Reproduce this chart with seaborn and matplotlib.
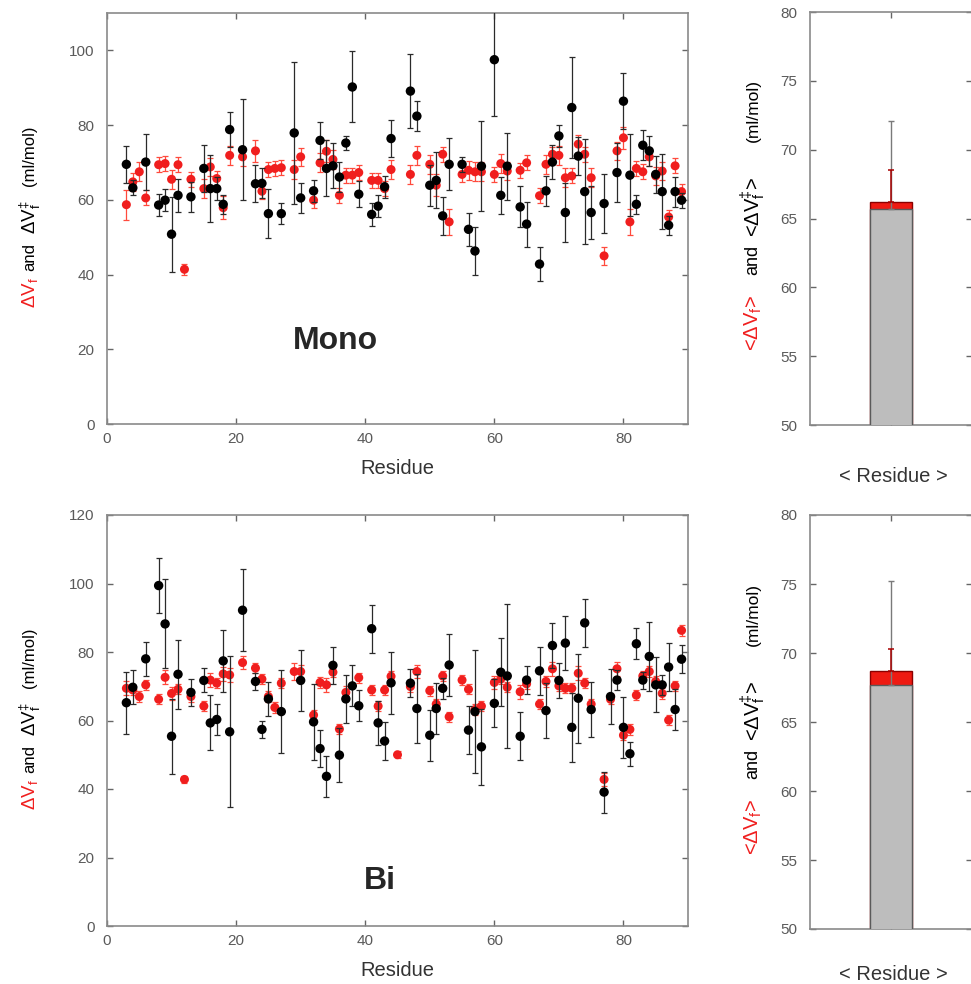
import numpy as np
import pandas as pd
import seaborn as sns
import matplotlib.pyplot as plt

nan = np.nan

residue = [3, 4, 5, 6, 8, 9, 10, 11, 12, 13, 15, 16, 17, 18, 19, 21, 23, 24, 25, 26,
           27, 29, 30, 32, 33, 34, 35, 36, 37, 38, 39, 41, 42, 43, 44, 45, 47, 48, 50, 51,
           52, 53, 55, 56, 57, 58, 60, 61, 62, 64, 65, 67, 68, 69, 70, 71, 72, 73, 74, 75,
           77, 78, 79, 80, 81, 82, 83, 84, 85, 86, 87, 88, 89]

mono_black = [69.5, 63.2, nan, 70.1, 58.6, 59.9, 50.8, 61.2, nan, 60.8, 68.4, 63.0, 63.0, 58.8, 78.8, 73.4, 64.3, 64.4, 56.3, nan,
              56.3, 77.9, 60.5, 62.4, 75.9, 68.4, 69.1, 66.1, 75.2, 90.2, 61.5, 56.1, 58.3, 63.5, 76.4, nan, 89.1, 82.4, 63.9, 65.2,
              55.7, 69.5, 69.5, 52.1, 46.3, 69.0, 97.5, 61.2, 69.0, 58.1, 53.5, 42.8, 62.4, 70.1, 77.1, 56.6, 84.7, 71.7, 62.2, 56.6,
              59.0, nan, 67.3, 86.4, 66.6, 58.8, 74.6, 73.1, 66.8, 62.2, 53.2, 62.2, 59.9]
mono_black_err = [5, 2, nan, 7.5, 3, 3, 10, 4.5, nan, 4, 6.4, 9, 3, 2.5, 4.7, 13.5, 5, 4, 6.5, nan,
                  2.8, 19, 4, 3, 5, 7.5, 6, 4, 2, 9.5, 3.5, 3, 3, 3, 5, nan, 10, 4, 5.5, 7.5,
                  5, 7, 2, 4.5, 6.5, 12, 15, 5, 9, 5.5, 6, 4.5, 4, 4.5, 3, 8, 13.5, 5, 14, 7,
                  8, nan, 8, 7.5, 11, 2.5, 4, 4, 5, 10, 2.5, 4, 2]
mono_red = [58.7, 64.8, 67.5, 60.5, 69.4, 69.7, 65.5, 69.4, 41.4, 65.5, 63.0, 68.8, 65.7, 57.9, 71.9, 71.5, 73.1, 62.3, 68.1, 68.4,
            68.6, 68.1, 71.5, 59.9, 69.9, 73.0, 70.8, 61.2, 66.6, 66.6, 67.3, 65.2, 65.2, 63.0, 68.1, nan, 66.8, 71.9, 69.5, 63.9,
            72.2, 54.1, 66.8, 67.9, 67.5, 67.5, 66.8, 69.7, 67.7, 67.9, 69.9, 61.1, 69.5, 72.2, 71.9, 65.9, 66.4, 74.9, 72.2, 65.9,
            45.0, nan, 73.1, 76.6, 54.1, 68.4, 67.5, 71.5, 66.4, 67.7, 55.4, 69.1, 62.2]
mono_red_err = [4, 2.5, 2.5, 2, 2, 2, 2.5, 2, 1.5, 2, 2.5, 2.5, 2, 3, 2.5, 2.5, 3, 2, 2, 2,
                2, 2.5, 2.5, 2, 2.5, 3, 2.5, 2, 2, 2, 2, 2, 2, 2, 2.5, nan, 2.5, 2.5, 2.5, 3,
                2, 3.5, 2, 2.5, 2.5, 2.5, 2, 2.5, 2.5, 2, 2, 2, 2.5, 2, 2.5, 2.5, 2, 2.5, 2, 2.5,
                2.5, nan, 2.5, 3, 3.5, 2, 2, 2.5, 2.5, 2.5, 2, 2, 2]

bi_black = [65.2, 69.7, nan, 78.0, 99.4, 88.2, 55.4, 73.5, nan, 68.2, 71.7, 59.3, 60.3, 77.4, 56.7, 92.2, 71.4, 57.4, 66.3, nan,
            62.6, nan, 71.7, 59.6, 51.8, 43.7, 76.1, 49.9, 66.3, 70.1, 64.3, 86.8, 59.3, 54.0, 71.0, nan, 70.9, 63.5, 55.7, 63.5,
            69.4, 76.2, nan, 57.2, 62.6, 52.3, 65.0, 74.1, 73.0, 55.4, 71.8, 74.5, 62.9, 81.9, 71.7, 82.6, 58.0, 66.5, 88.5, 63.2,
            39.1, 67.0, 71.8, 58.0, 50.3, 82.4, 71.8, 78.7, 70.4, 70.4, 75.6, 63.2, 77.9]
bi_black_err = [9, 5, nan, 5, 8, 13, 11, 10, nan, 4, 3.5, 8, 4.5, 9, 22, 12, 2.5, 2.5, 5, nan,
                12, nan, 9, 11, 5.5, 6, 5.5, 8, 7, 6, 4.5, 7, 6.5, 5.5, 9, nan, 4, 10, 7.5, 7.5,
                3, 9, nan, 7, 18, 11, 7, 10, 21, 7, 4, 7, 8, 6.5, 5, 8, 10, 13, 7, 8,
                6, 8, 3, 9, 3.5, 4.5, 2.5, 10, 8, 3, 7, 6, 4]
bi_red = [69.4, 68.9, 67.0, 70.4, 66.2, 72.6, 67.9, 69.1, 42.8, 67.0, 64.2, 71.8, 70.9, 73.6, 73.3, 76.9, 75.3, 72.1, 67.0, 63.8,
          70.9, 74.3, 74.3, 61.6, 71.1, 70.4, 74.1, 57.5, 68.2, nan, 72.5, 68.9, 64.2, 68.9, 72.9, 50.0, 69.9, 74.3, 68.7, 64.8,
          73.0, 61.1, 71.8, 69.1, 63.2, 64.2, 71.1, 72.1, 69.7, 68.4, 70.7, 64.8, 71.4, 75.1, 70.1, 69.4, 69.4, 73.8, 70.9, 64.8,
          42.8, 66.2, 75.1, 55.7, 57.4, 67.4, 73.0, 74.3, 71.4, 67.9, 60.1, 70.1, 86.3]
bi_red_err = [2, 1.5, 1.5, 1.5, 1.5, 2, 2, 1.5, 1, 1.5, 1.5, 2, 1.5, 2, 2, 2, 1.5, 1.5, 1.5, 1.5,
              1.5, 2.5, 2, 1.5, 1.5, 2, 1.5, 1.5, 2, nan, 1.5, 1.5, 1.5, 1.5, 1.5, 1, 1.5, 2, 1.5, 1.5,
              1.5, 1.5, 1.5, 1.5, 1.5, 1.5, 2, 1.5, 1.5, 2, 1.5, 1.5, 1.5, 2, 1.5, 1.5, 1.5, 2, 1.5, 1.5,
              2, 1.5, 2, 1.5, 1.5, 1.5, 1.5, 1.5, 1.5, 1.5, 1.5, 1.5, 1.5]

# averages for the bar panels: [black (gray bar), red]
avg_mono = [65.7, 66.2]
avg_mono_err = [6.4, 2.3]
avg_bi = [67.7, 68.7]
avg_bi_err = [7.5, 1.6]
bar_category = ["1"]

sns.set_theme(style="ticks")
plt.rcParams['font.family'] = ['Liberation Sans', 'DejaVu Sans']
plt.rcParams['mathtext.fontset'] = 'custom'
plt.rcParams['mathtext.rm'] = 'Liberation Sans'
plt.rcParams['mathtext.it'] = 'Liberation Sans'
plt.rcParams['mathtext.default'] = 'regular'

RED = '#f01e1e'
W, H = 971, 984
fig = plt.figure(figsize=(W / 100, H / 100), dpi=100)


def px_axes(l, t, r, b):
    return fig.add_axes([l / W, 1 - b / H, (r - l) / W, (b - t) / H])


def style_axes(ax):
    for s in ax.spines.values():
        s.set_color('#8a8a8a')
        s.set_linewidth(1.2)
    ax.tick_params(direction='in', top=True, right=True, length=4, width=1,
                   color='#666666', labelcolor='#5a5a5a', labelsize=11)
    ax.tick_params(axis='y', pad=9)
    ax.tick_params(axis='x', pad=6)


def scatter_panel(ax, red, red_err, black, black_err, ymax, yticks):
    df = pd.DataFrame({'Residue': residue, 'red': red, 'red_err': red_err,
                       'black': black, 'black_err': black_err})
    ax.errorbar(df['Residue'], df['red'], yerr=df['red_err'], fmt='none', ecolor='#ff4a3d',
                elinewidth=0.9, capsize=2, capthick=0.9, zorder=2)
    sns.scatterplot(data=df, x='Residue', y='red', color=RED, s=42, edgecolor='none',
                    ax=ax, zorder=3)
    ax.errorbar(df['Residue'], df['black'], yerr=df['black_err'], fmt='none', ecolor='#2a2a2a',
                elinewidth=0.9, capsize=2, capthick=0.9, zorder=4)
    sns.scatterplot(data=df, x='Residue', y='black', color='black', s=46, edgecolor='none',
                    ax=ax, zorder=5)
    ax.set_xlim(0, 90)
    ax.set_ylim(0, ymax)
    ax.set_xticks([0, 20, 40, 60, 80])
    ax.set_yticks(yticks)
    style_axes(ax)
    ax.set_xlabel('Residue', fontsize=14.5, color='#333333', labelpad=9)
    ax.set_ylabel('')


def bar_panel(ax, avg, err):
    sns.barplot(x=bar_category, y=[avg[1]], color='#ee1a12', saturation=1, width=0.264,
                edgecolor='#8a0000', linewidth=1, ax=ax, zorder=2)
    sns.barplot(x=bar_category, y=[avg[0]], color='#bdbdbd', saturation=1, width=0.264,
                edgecolor='#5a5a5a', linewidth=1, ax=ax, zorder=3)
    ax.errorbar([0], [avg[0]], yerr=[[0], [err[0]]], fmt='none', ecolor='#7a7a7a',
                elinewidth=1, capsize=2.5, capthick=1, zorder=4)
    ax.errorbar([0], [avg[1]], yerr=[[0], [err[1]]], fmt='none', ecolor='#a80000',
                elinewidth=1.1, capsize=2.5, capthick=1.1, zorder=5)
    ax.set_xlim(-0.5, 0.5)
    ax.set_ylim(50, 80)
    ax.set_yticks([50, 55, 60, 65, 70, 75, 80])
    ax.set_xticks([0])
    ax.set_xticklabels([])
    style_axes(ax)
    ax.set_xlabel('')
    ax.set_ylabel('')


def stacked_label(x_px, yc_px, pieces):
    # off > 0 means lower on the page (image y grows downward)
    for s, color, off, fs in pieces:
        fig.text(x_px / W, 1 - (yc_px + off) / H, s, color=color, rotation=90,
                 ha='center', va='center', fontsize=fs)


ax1 = px_axes(107, 13, 688, 424)
ax2 = px_axes(107, 515, 688, 926)
ax3 = px_axes(810, 12, 972, 425)
ax4 = px_axes(810, 515, 972, 929)

scatter_panel(ax1, mono_red, mono_red_err, mono_black, mono_black_err, 110,
              [0, 20, 40, 60, 80, 100])
scatter_panel(ax2, bi_red, bi_red_err, bi_black, bi_black_err, 120,
              [0, 20, 40, 60, 80, 100, 120])
bar_panel(ax3, avg_mono, avg_mono_err)
bar_panel(ax4, avg_bi, avg_bi_err)

fig.text(335 / W, 1 - 341 / H, 'Mono', fontsize=23, fontweight='bold', ha='center', va='center')
fig.text(380 / W, 1 - 881 / H, 'Bi', fontsize=23, fontweight='bold', ha='center', va='center')

left_pieces = [(r'$\Delta V_{f}$', RED, 75, 13.5), ('and', 'black', 39, 12),
               (r'$\Delta V^{\ddagger}_{f}$', 'black', -1, 13.5), ('(ml/mol)', 'black', -62, 12)]
right_pieces = [(r'<$\Delta V_{f}$>', RED, 105, 14.5), ('and', 'black', 42, 13),
                (r'<$\Delta V^{\ddagger}_{f}$>', 'black', -11, 14.5), ('(ml/mol)', 'black', -108, 12.5)]
stacked_label(30, 218, left_pieces)
stacked_label(30, 720, left_pieces)
stacked_label(753, 218, right_pieces)
stacked_label(753, 722, right_pieces)

fig.text(893 / W, 1 - 477 / H, '< Residue >', fontsize=14.5, color='#333333', ha='center', va='center')
fig.text(893 / W, 1 - 975 / H, '< Residue >', fontsize=14.5, color='#333333', ha='center', va='center')

fig.savefig('out.png', dpi=100)
